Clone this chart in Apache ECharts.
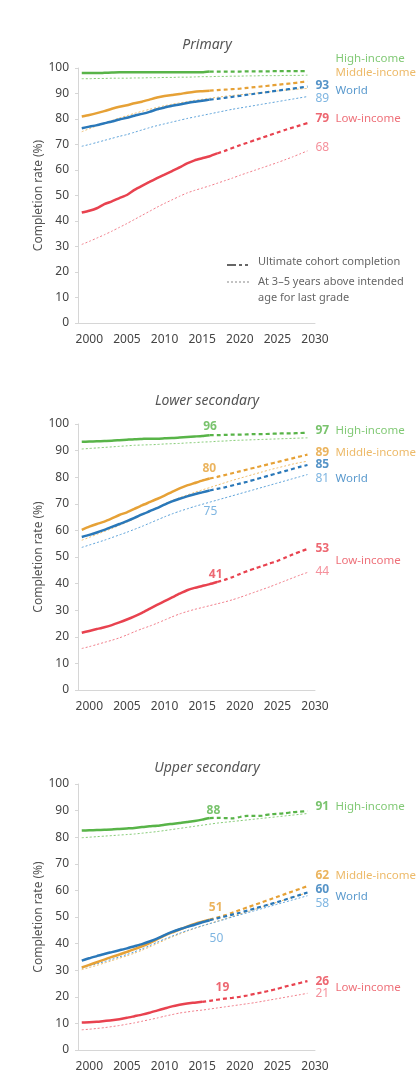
<!DOCTYPE html>
<html>
<head>
<meta charset="UTF-8">
<title>Completion rate projections</title>
<script src="https://cdn.jsdelivr.net/npm/echarts@6.0.0/dist/echarts.min.js"></script>
<style>
  html, body { margin: 0; padding: 0; background: #fff; }
  #chart { width: 419px; height: 1077px; }
</style>
</head>
<body>
<div id="chart"></div>
<script>
// years of the series, 1999 to 2029
const years = [1999,2000,2001,2002,2003,2004,2005,2006,2007,2008,2009,2010,2011,2012,2013,2014,2015,2016,2017,2018,2019,2020,2021,2022,2023,2024,2025,2026,2027,2028,2029];
const xTicks = [2000, 2005, 2010, 2015, 2020, 2025, 2030];
const groups = ['High-income', 'Middle-income', 'World', 'Low-income'];
const panelTitles = ['Primary', 'Lower secondary', 'Upper secondary'];

// Primary: ultimate cohort completion / at 3-5 years above age
const priHighCohort = [98.0,98.0,98.0,98.1,98.2,98.3,98.3,98.3,98.3,98.3,98.3,98.3,98.3,98.3,98.3,98.3,98.3,98.6,98.6,98.6,98.6,98.6,98.7,98.7,98.7,98.7,98.8,98.8,98.8,98.8,98.8];
const priHighAge = [95.8,95.8,95.9,95.9,96.0,96.0,96.0,96.1,96.1,96.2,96.2,96.3,96.3,96.4,96.4,96.5,96.6,96.6,96.7,96.7,96.8,96.8,96.9,96.9,97.0,97.0,97.0,97.1,97.1,97.1,97.2];
const priMidCohort = [81.0,81.6,82.3,83.1,84.0,84.8,85.4,86.2,86.8,87.6,88.4,89.0,89.4,89.8,90.3,90.7,90.9,91.1,91.3,91.5,91.7,91.9,92.2,92.5,92.8,93.1,93.4,93.7,94.0,94.4,94.8];
const priMidAge = [75.0,76.2,77.3,78.4,79.4,80.4,81.3,82.2,83.0,83.8,84.5,85.2,85.8,86.3,86.8,87.3,87.7,88.1,88.5,88.9,89.2,89.5,89.8,90.1,90.4,90.7,91.0,91.3,91.5,91.8,92.0];
const priWorldCohort = [76.4,77.0,77.6,78.3,79.0,79.8,80.5,81.3,82.0,82.8,83.8,84.5,85.2,85.7,86.3,86.8,87.2,87.6,87.9,88.3,88.7,89.1,89.5,89.9,90.3,90.7,91.1,91.5,91.9,92.3,92.7];
const priWorldAge = [69.3,70.0,70.8,71.6,72.4,73.2,73.9,74.8,75.7,76.6,77.4,78.1,78.8,79.5,80.2,80.8,81.4,82.0,82.6,83.2,83.8,84.3,84.8,85.3,85.8,86.3,86.8,87.3,87.8,88.3,88.8];
const priLowCohort = [43.3,44.0,45.0,46.6,47.7,49.0,50.2,52.2,53.8,55.3,56.8,58.2,59.6,61.0,62.6,63.8,64.6,65.4,66.5,67.5,68.6,69.7,70.7,71.7,72.7,73.7,74.7,75.7,76.6,77.5,78.4];
const priLowAge = [30.8,32.0,33.3,34.6,36.0,37.5,39.0,40.6,42.2,43.8,45.4,46.9,48.3,49.7,51.0,52.0,52.9,53.8,54.8,55.8,56.8,57.9,58.9,59.9,60.9,61.9,62.9,64.0,65.1,66.3,67.5];
const priLastObserved = [2016, 2016, 2016, 2017];

// Lower secondary
const lowHighCohort = [93.3,93.4,93.5,93.6,93.7,93.9,94.1,94.3,94.4,94.5,94.5,94.6,94.7,94.9,95.1,95.3,95.5,95.8,95.8,95.9,96.0,96.0,96.1,96.2,96.2,96.3,96.4,96.5,96.5,96.6,96.7];
const lowHighAge = [90.6,90.8,91.0,91.2,91.4,91.6,91.8,92.0,92.1,92.2,92.3,92.5,92.6,92.7,92.9,93.0,93.2,93.3,93.5,93.6,93.8,93.9,94.0,94.1,94.2,94.3,94.4,94.5,94.6,94.7,94.8];
const lowMidCohort = [60.2,61.4,62.4,63.3,64.5,65.8,66.8,68.1,69.4,70.6,71.8,73.1,74.5,75.8,76.9,77.8,78.7,79.5,80.1,80.8,81.5,82.2,82.9,83.6,84.3,85.0,85.7,86.4,87.1,87.8,88.5];
const lowMidAge = [56.3,57.4,58.5,59.6,60.7,61.9,63.1,64.4,65.8,67.2,68.6,70.0,71.2,72.3,73.3,74.3,75.2,76.1,77.0,77.9,78.8,79.6,80.4,81.2,82.0,82.8,83.5,84.2,84.9,85.5,86.0];
const lowWorldCohort = [57.5,58.3,59.2,60.2,61.3,62.4,63.5,64.7,66.0,67.2,68.4,69.7,70.9,71.9,72.8,73.6,74.3,75.0,75.6,76.2,76.9,77.6,78.3,79.1,79.9,80.7,81.5,82.3,83.1,83.9,84.6];
const lowWorldAge = [53.6,54.5,55.4,56.3,57.3,58.3,59.3,60.4,61.5,62.7,63.9,65.1,66.2,67.2,68.1,69.0,69.8,70.6,71.4,72.2,73.0,73.8,74.6,75.4,76.2,77.0,77.8,78.6,79.4,80.2,81.0];
const lowLowCohort = [21.5,22.2,22.9,23.6,24.4,25.4,26.5,27.7,29.0,30.5,32.0,33.4,34.8,36.2,37.5,38.4,39.1,39.8,40.6,41.4,42.4,43.6,44.7,45.7,46.6,47.6,48.5,49.7,50.9,52.0,53.0];
const lowLowAge = [15.6,16.3,17.1,17.9,18.7,19.6,20.7,21.9,23.0,24.0,25.1,26.3,27.5,28.6,29.5,30.3,31.0,31.7,32.4,33.1,33.9,34.8,35.8,36.8,37.8,38.8,39.9,41.0,42.1,43.2,44.2];
const lowLastObserved = [2016, 2016, 2016, 2017];

// Upper secondary
const uppHighCohort = [82.5,82.6,82.7,82.8,82.9,83.1,83.3,83.5,83.8,84.1,84.3,84.7,85.0,85.3,85.7,86.1,86.6,87.2,87.3,87.2,87.1,87.6,88.0,88.0,88.1,88.6,88.8,89.0,89.4,89.6,89.8];
const uppHighAge = [79.8,80.0,80.2,80.4,80.6,80.8,81.0,81.2,81.5,81.8,82.1,82.5,82.9,83.3,83.7,84.1,84.5,84.9,85.3,85.6,85.9,86.2,86.5,86.8,87.1,87.4,87.7,88.0,88.3,88.6,88.9];
const uppMidCohort = [31.0,32.0,33.0,34.0,35.0,35.9,36.9,37.9,39.0,40.2,41.6,43.0,44.2,45.3,46.4,47.4,48.2,49.0,49.8,50.6,51.6,52.6,53.6,54.6,55.6,56.6,57.6,58.6,59.6,60.6,61.6];
const uppMidAge = [30.2,31.0,31.8,32.7,33.6,34.5,35.4,36.4,37.5,38.7,40.0,41.3,42.5,43.6,44.7,45.7,46.6,47.5,48.4,49.3,50.2,51.1,52.0,52.9,53.8,54.7,55.6,56.5,57.4,58.3,59.0];
const uppWorldCohort = [33.6,34.5,35.3,36.1,36.8,37.5,38.2,39.0,39.8,40.8,41.9,43.2,44.4,45.4,46.3,47.1,48.0,48.8,49.5,50.2,50.9,51.6,52.4,53.2,54.0,54.8,55.6,56.5,57.4,58.3,59.2];
const uppWorldAge = [30.8,31.6,32.4,33.2,34.1,35.0,35.9,36.9,38.0,39.2,40.5,41.7,42.8,43.9,44.9,45.8,46.7,47.5,48.3,49.1,50.0,50.8,51.6,52.4,53.2,54.0,54.8,55.6,56.4,57.2,58.0];
const uppLowCohort = [10.3,10.4,10.6,10.9,11.2,11.6,12.1,12.7,13.3,14.0,14.8,15.6,16.4,17.0,17.5,17.8,18.1,18.5,18.9,19.3,19.6,20.0,20.5,21.1,21.7,22.3,23.0,23.8,24.5,25.2,25.9];
const uppLowAge = [7.6,7.8,8.1,8.4,8.8,9.2,9.7,10.2,10.8,11.4,12.0,12.7,13.3,13.9,14.3,14.7,15.0,15.4,15.8,16.2,16.6,17.0,17.4,17.8,18.3,18.8,19.3,19.8,20.3,20.8,21.3];
const uppLastObserved = [2016, 2016, 2016, 2015];

// colours per group: line, dotted line, name text, light number text
const lineColors = ['#58b448', '#e6a136', '#2a78b9', '#e8424f'];
const dotColors = ['#85cc76', '#efbd6a', '#5ea3da', '#f27d8a'];
const nameColors = ['#62bb52', '#e9a943', '#2f7fc0', '#ea4c58'];
const lightText = ['#6cc05c', '#eeb45c', '#5ea3da', '#f27482'];

// annotations: text, x (year), y (value), group index, style (b bold, l light, n name), anchor (l left, c centre)
const priNotes = [
  ['High-income', 2032.66, 103.5, 0, 'n', 'l'],
  ['Middle-income', 2032.66, 98.2, 1, 'n', 'l'],
  ['93', 2030.0, 93.1, 2, 'b', 'l'],
  ['World', 2032.66, 91.0, 2, 'n', 'l'],
  ['89', 2030.0, 88.2, 2, 'l', 'l'],
  ['79', 2030.0, 80.1, 3, 'b', 'l'],
  ['Low-income', 2032.66, 80.1, 3, 'n', 'l'],
  ['68', 2030.0, 68.6, 3, 'l', 'l']
];
const lowNotes = [
  ['96', 2016.05, 99.0, 0, 'b', 'c'],
  ['97', 2030.0, 97.4, 0, 'b', 'l'],
  ['High-income', 2032.66, 97.4, 0, 'n', 'l'],
  ['89', 2030.0, 89.2, 1, 'b', 'l'],
  ['Middle-income', 2032.66, 89.2, 1, 'n', 'l'],
  ['80', 2015.95, 83.1, 1, 'b', 'c'],
  ['85', 2030.0, 84.6, 2, 'b', 'l'],
  ['81', 2030.0, 79.6, 2, 'l', 'l'],
  ['World', 2032.66, 79.6, 2, 'n', 'l'],
  ['75', 2016.1, 67.0, 2, 'l', 'c'],
  ['53', 2030.0, 53.0, 3, 'b', 'l'],
  ['Low-income', 2032.66, 48.6, 3, 'n', 'l'],
  ['44', 2030.0, 44.5, 3, 'l', 'l'],
  ['41', 2016.8, 43.5, 3, 'b', 'c']
];
const uppNotes = [
  ['88', 2016.5, 90.0, 0, 'b', 'c'],
  ['91', 2030.0, 91.5, 0, 'b', 'l'],
  ['High-income', 2032.66, 91.5, 0, 'n', 'l'],
  ['62', 2030.0, 65.4, 1, 'b', 'l'],
  ['Middle-income', 2032.66, 65.4, 1, 'n', 'l'],
  ['60', 2030.0, 60.2, 2, 'b', 'l'],
  ['World', 2032.66, 57.6, 2, 'n', 'l'],
  ['58', 2030.0, 54.9, 2, 'l', 'l'],
  ['51', 2016.8, 53.5, 1, 'b', 'c'],
  ['50', 2016.9, 42.0, 2, 'l', 'c'],
  ['19', 2017.7, 23.6, 3, 'b', 'c'],
  ['26', 2030.0, 25.9, 3, 'b', 'l'],
  ['Low-income', 2032.66, 23.6, 3, 'n', 'l'],
  ['21', 2030.0, 21.3, 3, 'l', 'l']
];

const panels = [
  { cohort: [priHighCohort, priMidCohort, priWorldCohort, priLowCohort], age: [priHighAge, priMidAge, priWorldAge, priLowAge], last: priLastObserved, notes: priNotes },
  { cohort: [lowHighCohort, lowMidCohort, lowWorldCohort, lowLowCohort], age: [lowHighAge, lowMidAge, lowWorldAge, lowLowAge], last: lowLastObserved, notes: lowNotes },
  { cohort: [uppHighCohort, uppMidCohort, uppWorldCohort, uppLowCohort], age: [uppHighAge, uppMidAge, uppWorldAge, uppLowAge], last: uppLastObserved, notes: uppNotes }
];

const FONT = '"Noto Sans", sans-serif';
const gridTops = [68, 424, 784];
const gridHeights = [255, 266, 266];
const titleTops = [33, 389, 756];

const grid = [], xAxis = [], yAxis = [], series = [], title = [];
panels.forEach((p, i) => {
  grid.push({ left: 78, width: 237, top: gridTops[i], height: gridHeights[i] });
  title.push({
    text: panelTitles[i], left: 202, top: titleTops[i], textAlign: 'center',
    textStyle: { fontFamily: FONT, fontSize: 14, fontStyle: 'italic', fontWeight: 'normal', color: '#555' }
  });
  xAxis.push({
    type: 'value', gridIndex: i, min: 1998.5, max: 2030,
    axisLine: { show: true, lineStyle: { color: '#d6d6d6' } },
    axisTick: { show: false },
    splitLine: { show: false },
    axisLabel: {
      customValues: xTicks, margin: 11, color: '#444', fontSize: 12, fontFamily: FONT,
      formatter: v => String(v)
    }
  });
  yAxis.push({
    type: 'value', gridIndex: i, min: 0, max: 100, interval: 10,
    name: 'Completion rate (%)', nameLocation: 'middle', nameGap: 33, nameRotate: 90,
    nameMoveOverlap: false,
    nameTextStyle: { fontFamily: FONT, fontSize: 12, color: '#555' },
    axisLine: { show: true, lineStyle: { color: '#d6d6d6' } },
    axisTick: { show: true, length: 3, lineStyle: { color: '#d6d6d6' } },
    splitLine: { show: false },
    axisLabel: { margin: 9, color: '#444', fontSize: 12, fontFamily: FONT }
  });

  groups.forEach((g, k) => {
    series.push({
      type: 'line', name: g + ' (3-5 years)', xAxisIndex: i, yAxisIndex: i,
      data: years.map((y, j) => [y, p.age[k][j]]),
      showSymbol: false, smooth: 0.2, z: 1, silent: true,
      lineStyle: { color: dotColors[k], width: 1, type: [2, 2] }
    });
  });
  groups.forEach((g, k) => {
    const cohort = years.map((y, j) => [y, p.cohort[k][j]]);
    const last = p.last[k];
    series.push({
      type: 'line', name: g, xAxisIndex: i, yAxisIndex: i,
      data: cohort.filter(d => d[0] >= last),
      showSymbol: false, smooth: 0.2, z: 2, silent: true,
      lineStyle: { color: lineColors[k], width: 2.2, type: [4, 3] }
    });
    series.push({
      type: 'line', name: g, xAxisIndex: i, yAxisIndex: i,
      data: cohort.filter(d => d[0] <= last),
      showSymbol: false, smooth: 0.2, z: 3, silent: true,
      lineStyle: { color: lineColors[k], width: 2.5 }
    });
  });

  series.push({
    type: 'scatter', xAxisIndex: i, yAxisIndex: i, clip: false, silent: true, z: 5,
    symbolSize: 1, itemStyle: { color: 'transparent' },
    data: p.notes.map(n => ({
      value: [n[1], n[2]], name: n[0],
      label: {
        show: true, formatter: '{b}',
        position: n[5] === 'l' ? 'right' : 'inside', distance: 0,
        fontFamily: FONT, fontSize: n[4] === 'n' ? 11.5 : 12,
        fontWeight: n[4] === 'b' ? 'bold' : 'normal',
        color: n[4] === 'b' ? lineColors[n[3]] : (n[4] === 'l' ? lightText[n[3]] : nameColors[n[3]])
      }
    }))
  });
});

// legend drawn inside the first panel
const graphic = [
  { type: 'line', shape: { x1: 227, y1: 265, x2: 236, y2: 265 }, style: { stroke: '#666', lineWidth: 2 } },
  { type: 'line', shape: { x1: 239, y1: 265, x2: 249, y2: 265 }, style: { stroke: '#666', lineWidth: 2, lineDash: [3, 3] } },
  { type: 'line', shape: { x1: 227, y1: 282, x2: 249, y2: 282 }, style: { stroke: '#888', lineWidth: 1, lineDash: [2, 2] } },
  { type: 'text', left: 258, top: 256, style: { text: 'Ultimate cohort completion', font: '11px "Noto Sans", sans-serif', fill: '#666' } },
  { type: 'text', left: 258, top: 274, style: { text: 'At 3\u20135 years above intended\nage for last grade', font: '11px "Noto Sans", sans-serif', fill: '#666', lineHeight: 16 } }
];

const chart = echarts.init(document.getElementById('chart'));
chart.setOption({
  animation: false,
  backgroundColor: '#fff',
  title, grid, xAxis, yAxis, series, graphic
});
</script>
</body>
</html>
